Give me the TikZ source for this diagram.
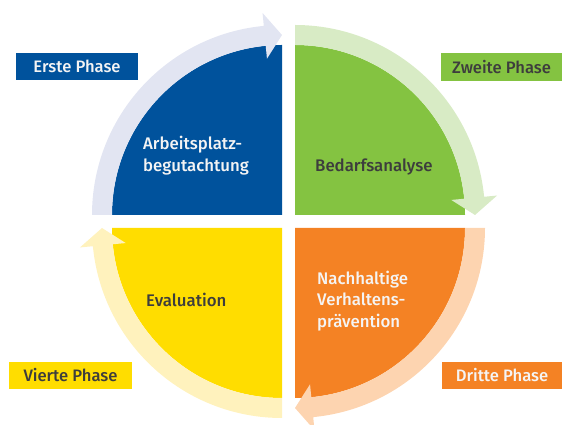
\documentclass[tikz,border=0pt]{standalone}
\usepackage{fontspec}
\setmainfont{Fira Sans}[UprightFont={* Medium}]
\definecolor{cBlue}{HTML}{00529C}
\definecolor{cBlueL}{HTML}{E2E5F2}
\definecolor{cGreen}{HTML}{84C341}
\definecolor{cGreenL}{HTML}{D8EBC5}
\definecolor{cOrange}{HTML}{F48224}
\definecolor{cOrangeL}{HTML}{FDD4B0}
\definecolor{cYellow}{HTML}{FFDD00}
\definecolor{cYellowL}{HTML}{FFF2BD}
\definecolor{cDark}{HTML}{3D3D3D}
\definecolor{cWhite}{HTML}{F4F4F4}
\newcommand\cyclearrow[4]{%
  \pgfmathsetmacro\headang{#3+5.5}%
  \begin{scope}[shift={#1}]
    \fill[#4] (#2:190) arc[start angle=#2, end angle=\headang, radius=190]
      -- (\headang:203) -- (#3:180) -- (\headang:157) -- (\headang:170)
      arc[start angle=\headang, end angle=#2, radius=170] -- cycle;
  \end{scope}}
\begin{document}
\begin{tikzpicture}[x=1pt,y=1pt,
  sectortext/.style={font=\fontsize{16.8}{21.8}\selectfont, align=left, anchor=west, inner sep=0pt},
  phaselabel/.style={font=\fontsize{16.6}{18}\selectfont, inner sep=0pt}]
\useasboundingbox (0,0) rectangle (564,425);
% sectors
\fill[cBlue] (282,210) -- ++(180:170) arc[start angle=180, end angle=90, radius=170] -- cycle;
\fill[cGreen] (295,210) -- ++(90:170) arc[start angle=90, end angle=0, radius=170] -- cycle;
\fill[cOrange] (295,197) -- ++(0:170) arc[start angle=0, end angle=-90, radius=170] -- cycle;
\fill[cYellow] (282,197) -- ++(-90:170) arc[start angle=-90, end angle=-180, radius=170] -- cycle;
% arrows
\cyclearrow{(282,210)}{180}{90}{cBlueL}
\cyclearrow{(295,210)}{90}{0}{cGreenL}
\cyclearrow{(295,197)}{0}{-90}{cOrangeL}
\cyclearrow{(282,197)}{-90}{-180}{cYellowL}
% sector texts
\node[sectortext, text=cWhite] (t1) at (143,269) {Arbeitsplatz-\\begutachtung};
\node[sectortext, text=cDark] (t2) at (315,258) {Bedarfsanalyse};
\node[sectortext, text=cWhite] (t3) at (317,124) {Nachhaltige\\Verhaltens-\\prävention};
\node[sectortext, text=cDark] (t4) at (146,125) {Evaluation};
% phase labels
\fill[cBlue] (16,345) rectangle (138,372);
\node[phaselabel, text=cWhite] (p1) at (77,358.5) {Erste Phase};
\fill[cGreen] (441,344) rectangle (562,372);
\node[phaselabel, text=cDark] (p2) at (501.5,358) {Zweite Phase};
\fill[cOrange] (442,36) rectangle (562,63);
\node[phaselabel, text=cWhite] (p3) at (502,49.5) {Dritte Phase};
\fill[cYellow] (9,36) rectangle (132,63);
\node[phaselabel, text=cDark] (p4) at (70.5,49.5) {Vierte Phase};
\end{tikzpicture}
\end{document}
